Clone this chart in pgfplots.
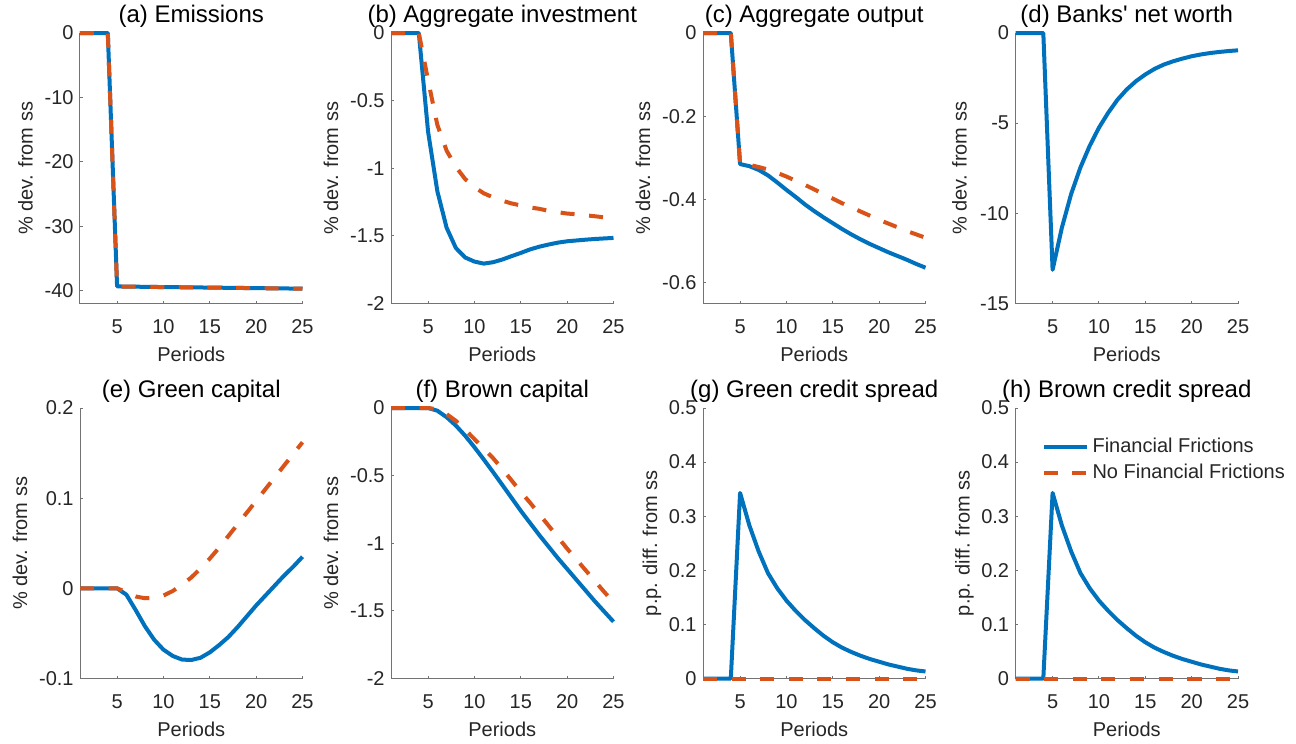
\documentclass[border=0pt]{standalone}
\usepackage{fontspec}
\setmainfont{Liberation Sans}
\usepackage{pgfplots}
\pgfplotsset{compat=1.18}
\usepackage{pgfplotstable}
\definecolor{mblue}{rgb}{0,0.447,0.741}
\definecolor{morange}{rgb}{0.851,0.325,0.098}
\definecolor{axgray}{rgb}{0.15,0.15,0.15}

\pgfplotstableread{
t ff nff
1 0 0
2 0 0
3 0 0
4 0 0
5 -39.35 -39.35
6 -39.37 -39.37
7 -39.39 -39.39
8 -39.41 -39.41
9 -39.43 -39.43
10 -39.45 -39.45
11 -39.46 -39.46
12 -39.48 -39.48
13 -39.50 -39.50
14 -39.51 -39.51
15 -39.53 -39.53
16 -39.55 -39.55
17 -39.56 -39.56
18 -39.58 -39.58
19 -39.60 -39.60
20 -39.61 -39.61
21 -39.63 -39.63
22 -39.65 -39.65
23 -39.66 -39.66
24 -39.68 -39.68
25 -39.70 -39.70
}\tabA

\pgfplotstableread{
t ff nff
1 0 0
2 0 0
3 0 0
4 0 0
5 -0.73 -0.35
6 -1.17 -0.68
7 -1.44 -0.87
8 -1.59 -0.99
9 -1.66 -1.08
10 -1.69 -1.14
11 -1.705 -1.185
12 -1.695 -1.215
13 -1.675 -1.24
14 -1.65 -1.26
15 -1.626 -1.275
16 -1.60 -1.29
17 -1.58 -1.30
18 -1.564 -1.315
19 -1.55 -1.325
20 -1.54 -1.335
21 -1.534 -1.34
22 -1.528 -1.348
23 -1.523 -1.355
24 -1.519 -1.363
25 -1.515 -1.37
}\tabB

\pgfplotstableread{
t ff nff
1 0 0
2 0 0
3 0 0
4 0 0
5 -0.315 -0.315
6 -0.320 -0.317
7 -0.329 -0.322
8 -0.342 -0.328
9 -0.359 -0.336
10 -0.377 -0.345
11 -0.394 -0.355
12 -0.412 -0.365
13 -0.428 -0.376
14 -0.443 -0.387
15 -0.457 -0.398
16 -0.471 -0.409
17 -0.484 -0.419
18 -0.496 -0.429
19 -0.507 -0.439
20 -0.517 -0.449
21 -0.527 -0.458
22 -0.536 -0.467
23 -0.545 -0.476
24 -0.555 -0.484
25 -0.564 -0.492
}\tabC

\pgfplotstableread{
t ff
1 0
2 0
3 0
4 0
5 -13.13
6 -10.80
7 -8.93
8 -7.46
9 -6.26
10 -5.25
11 -4.42
12 -3.70
13 -3.13
14 -2.67
15 -2.30
16 -1.99
17 -1.75
18 -1.57
19 -1.42
20 -1.29
21 -1.19
22 -1.11
23 -1.05
24 -1.00
25 -0.96
}\tabD

\pgfplotstableread{
t ff nff
1 0 0
2 0 0
3 0 0
4 0 0
5 0 0
6 -0.007 -0.004
7 -0.024 -0.009
8 -0.042 -0.011
9 -0.057 -0.0105
10 -0.068 -0.008
11 -0.075 -0.003
12 -0.079 0.004
13 -0.0795 0.012
14 -0.077 0.022
15 -0.071 0.033
16 -0.063 0.045
17 -0.054 0.058
18 -0.043 0.071
19 -0.031 0.084
20 -0.019 0.097
21 -0.008 0.110
22 0.003 0.123
23 0.014 0.136
24 0.024 0.149
25 0.035 0.162
}\tabE

\pgfplotstableread{
t ff nff
1 0 0
2 0 0
3 0 0
4 0 0
5 0 0
6 -0.02 -0.01
7 -0.068 -0.045
8 -0.13 -0.095
9 -0.205 -0.16
10 -0.29 -0.23
11 -0.38 -0.30
12 -0.473 -0.37
13 -0.568 -0.45
14 -0.664 -0.535
15 -0.76 -0.62
16 -0.85 -0.70
17 -0.94 -0.785
18 -1.025 -0.87
19 -1.11 -0.955
20 -1.19 -1.04
21 -1.27 -1.12
22 -1.35 -1.20
23 -1.43 -1.28
24 -1.505 -1.36
25 -1.58 -1.435
}\tabF

\pgfplotstableread{
t ff nff
1 0 0
2 0 0
3 0 0
4 0 0
5 0.343 0
6 0.283 0
7 0.235 0
8 0.195 0
9 0.167 0
10 0.144 0
11 0.125 0
12 0.108 0
13 0.093 0
14 0.079 0
15 0.067 0
16 0.057 0
17 0.049 0
18 0.042 0
19 0.036 0
20 0.031 0
21 0.026 0
22 0.022 0
23 0.018 0
24 0.015 0
25 0.013 0
}\tabG

\pgfplotsset{
  irf/.style={
    scale only axis, width=111.25pt, height=135.25pt,
    anchor=north west,
    xmin=1, xmax=25,
    xtick={5,10,15,20,25}, xticklabels={5,10,15,20,25},
    axis x line*=bottom, axis y line*=left,
    axis line style={-, draw=black!55, line width=0.5pt},
    tick align=inside, major tick length=1.4pt,
    tick style={draw=black!55, line width=0.5pt},
    tick label style={font=\fontsize{10}{12}\selectfont, text=axgray, inner sep=0pt},
    xticklabel style={anchor=north, yshift=-8pt},
    yticklabel style={anchor=east, xshift=-3pt},
    xlabel={Periods},
    xlabel style={at={(axis description cs:0.5,0)}, anchor=north, inner sep=0pt, yshift=-21.5pt, font=\fontsize{10}{12}\selectfont, text=axgray},
    every axis title/.style={at={([yshift=5.5pt]axis description cs:0.5,1)}, anchor=base, inner sep=0pt, font=\fontsize{12}{14}\selectfont, text=black},
    clip=false,
  },
  ylab/.style={ylabel style={at={([xshift=-#1]axis description cs:0,0.5)}, anchor=base, rotate=0, inner sep=0pt, font=\fontsize{10}{12}\selectfont, text=axgray}},
  ffl/.style={mblue, line width=2pt, line join=round},
  nffl/.style={morange, line width=2pt, line join=round, dash pattern=on 7pt off 7.3pt},
}

\begin{document}
\begin{tikzpicture}
\path[use as bounding box] (0pt,0pt) rectangle (648pt,-372pt);

% (a)
\begin{axis}[irf, at={(40pt,-16.5pt)}, title={(a) Emissions},
  ymin=-42, ymax=0, ytick={-40,-30,-20,-10,0}, yticklabels={-40,-30,-20,-10,0},
  ylabel={\% dev. from ss}, ylab=23.7pt]
\addplot[ffl] table[x=t,y=ff] {\tabA};
\addplot[nffl] table[x=t,y=nff] {\tabA};
\end{axis}

% (b)
\begin{axis}[irf, at={(195.5pt,-16.5pt)}, title={(b) Aggregate investment},
  ymin=-2, ymax=0, ytick={-2,-1.5,-1,-0.5,0}, yticklabels={-2,-1.5,-1,-0.5,0},
  ylabel={\% dev. from ss}, ylab=26.5pt]
\addplot[ffl] table[x=t,y=ff] {\tabB};
\addplot[nffl] table[x=t,y=nff] {\tabB};
\end{axis}

% (c)
\begin{axis}[irf, at={(351.5pt,-16.5pt)}, title={(c) Aggregate output},
  ymin=-0.65, ymax=0, ytick={-0.6,-0.4,-0.2,0}, yticklabels={-0.6,-0.4,-0.2,0},
  ylabel={\% dev. from ss}, ylab=26.5pt]
\addplot[ffl] table[x=t,y=ff] {\tabC};
\addplot[nffl] table[x=t,y=nff] {\tabC};
\end{axis}

% (d)
\begin{axis}[irf, at={(507.75pt,-16.5pt)}, title={(d) Banks\textquotesingle{} net worth},
  ymin=-15, ymax=0, ytick={-15,-10,-5,0}, yticklabels={-15,-10,-5,0},
  ylabel={\% dev. from ss}, ylab=24.5pt]
\addplot[ffl] table[x=t,y=ff] {\tabD};
\end{axis}

% (e)
\begin{axis}[irf, at={(40pt,-204pt)}, title={(e) Green capital},
  ymin=-0.1, ymax=0.2, ytick={-0.1,0,0.1,0.2}, yticklabels={-0.1,0,0.1,0.2},
  ylabel={\% dev. from ss}, ylab=26.5pt]
\addplot[ffl] table[x=t,y=ff] {\tabE};
\addplot[nffl] table[x=t,y=nff] {\tabE};
\end{axis}

% (f)
\begin{axis}[irf, at={(195.5pt,-204pt)}, title={(f) Brown capital},
  ymin=-2, ymax=0, ytick={-2,-1.5,-1,-0.5,0}, yticklabels={-2,-1.5,-1,-0.5,0},
  ylabel={\% dev. from ss}, ylab=26.5pt]
\addplot[ffl] table[x=t,y=ff] {\tabF};
\addplot[nffl] table[x=t,y=nff] {\tabF};
\end{axis}

% (g)
\begin{axis}[irf, at={(351.5pt,-204pt)}, title={(g) Green credit spread},
  ymin=0, ymax=0.5, ytick={0,0.1,0.2,0.3,0.4,0.5}, yticklabels={0,0.1,0.2,0.3,0.4,0.5},
  ylabel={p.p. diff. from ss}, ylab=23pt]
\addplot[ffl] table[x=t,y=ff] {\tabG};
\addplot[nffl] table[x=t,y=nff] {\tabG};
\end{axis}

% (h)
\begin{axis}[irf, at={(507.75pt,-204pt)}, title={(h) Brown credit spread},
  ymin=0, ymax=0.5, ytick={0,0.1,0.2,0.3,0.4,0.5}, yticklabels={0,0.1,0.2,0.3,0.4,0.5},
  ylabel={p.p. diff. from ss}, ylab=23pt,
  legend cell align=left,
  legend image code/.code={\draw[#1] (0pt,0pt) -- (21.5pt,0pt);},
  legend style={at={(axis description cs:0.117,0.889)}, anchor=north west,
    draw=none, fill=none, inner sep=0pt, outer sep=0pt,
    font=\fontsize{10}{12}\selectfont, text=axgray,
    column sep=2pt, row sep=4pt,
    nodes={inner sep=0pt, text height=7pt, text depth=2pt}}]
\addplot[ffl] table[x=t,y=ff] {\tabG};
\addlegendentry{Financial Frictions}
\addplot[nffl] table[x=t,y=nff] {\tabG};
\addlegendentry{No Financial Frictions}
\end{axis}
\end{tikzpicture}
\end{document}
